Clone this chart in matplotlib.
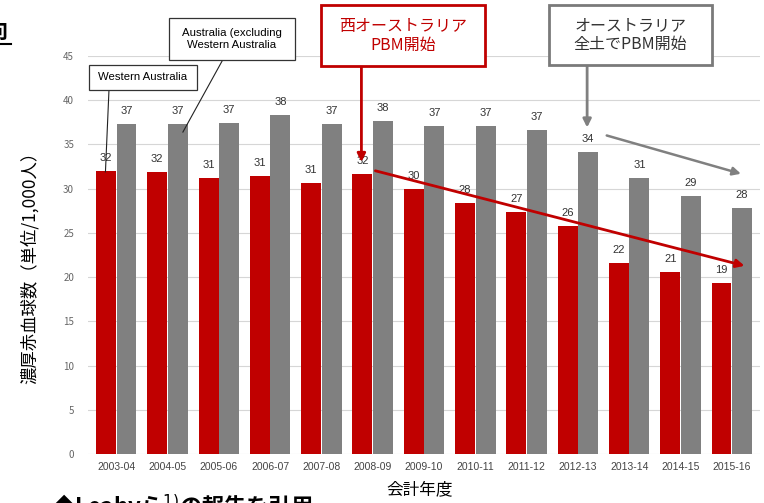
import matplotlib
matplotlib.use("Agg")
import matplotlib.pyplot as plt
from matplotlib.patches import Rectangle
import numpy as np

plt.rcParams['font.family'] = ['Noto Sans CJK JP', 'DejaVu Sans']

years = ['2003-04', '2004-05', '2005-06', '2006-07', '2007-08', '2008-09', '2009-10',
         '2010-11', '2011-12', '2012-13', '2013-14', '2014-15', '2015-16']
western_australia = [32.0, 31.9, 31.2, 31.4, 30.6, 31.7, 30.0, 28.4, 27.4, 25.8, 21.6, 20.6, 19.3]
australia_excl_wa = [37.3, 37.3, 37.4, 38.3, 37.3, 37.7, 37.1, 37.1, 36.6, 34.2, 31.2, 29.2, 27.8]

RED = '#c00000'
GRAY = '#808080'
W, H = 764, 503


def fpos(x, y):
    # pixel position -> figure fraction
    return x / W, 1 - y / H


fig = plt.figure(figsize=(W / 100, H / 100), dpi=100)
l, b = fpos(88, 454)
r, t = fpos(760, 56)
ax = fig.add_axes([l, b, r - l, t - b])

x = np.arange(len(years))
bw = 0.4
ax.bar(x - bw / 2, western_australia, bw * 0.97, color=RED, zorder=2)
ax.bar(x + bw / 2, australia_excl_wa, bw * 0.97, color=GRAY, zorder=2)

for i in x:
    ax.text(i - bw / 2, western_australia[i] + 0.9, f"{round(western_australia[i])}",
            ha='center', va='bottom', fontsize=8, color='#333333', family='Liberation Sans')
    ax.text(i + bw / 2, australia_excl_wa[i] + 0.9, f"{round(australia_excl_wa[i])}",
            ha='center', va='bottom', fontsize=8, color='#333333', family='Liberation Sans')

ax.set_xlim(-0.55, 12.55)
ax.set_ylim(0, 45)
ax.set_yticks(range(0, 46, 5))
ax.set_xticks(x)
ax.set_xticklabels(years, family='Liberation Sans')
ax.tick_params(axis='both', length=0, labelsize=7, labelcolor='#444444')
ax.tick_params(axis='x', labelsize=7.5, pad=6)
ax.tick_params(axis='y', pad=10, labelcolor='#666666')
ax.grid(axis='y', color='#d6d6d6', lw=0.8, zorder=0)
for s in ax.spines.values():
    s.set_visible(False)

fig.text(*fpos(30, 263), '濃厚赤血球数（単位/1,000人）', rotation=90, ha='center', va='center',
         fontsize=12.5)
fig.text(*fpos(420, 490), '会計年度', ha='center', va='center', fontsize=12)

# trend arrows
ax.annotate('', xy=(12.3, 21.2), xytext=(5.0, 32.1),
            arrowprops=dict(arrowstyle='-|>', color=RED, lw=2, mutation_scale=12), zorder=4)
ax.annotate('', xy=(12.23, 31.6), xytext=(9.51, 36.1), annotation_clip=False,
            arrowprops=dict(arrowstyle='-|>', color=GRAY, lw=1.8, mutation_scale=12), zorder=4)

# callout leaders
ax.annotate('', xy=(4.78, 32.7), xytext=(4.78, 44.5), annotation_clip=False,
            arrowprops=dict(arrowstyle='-|>', color=RED, lw=2, mutation_scale=12), zorder=4)
ax.annotate('', xy=(9.18, 36.6), xytext=(9.18, 44.5), annotation_clip=False,
            arrowprops=dict(arrowstyle='-|>', color=GRAY, lw=2, mutation_scale=12), zorder=4)
ax.plot([-0.14, -0.21], [41.3, 31.9], color='#222222', lw=0.8, clip_on=False, zorder=4)
ax.plot([2.08, 1.30], [44.6, 36.4], color='#222222', lw=0.8, clip_on=False, zorder=4)


def box(x0, y0, x1, y1, ec, lw):
    bx, by = fpos(x0, y1)
    fig.patches.append(Rectangle((bx, by), (x1 - x0) / W, (y1 - y0) / H,
                                 transform=fig.transFigure, fc='white', ec=ec, lw=lw, zorder=5))


box(89, 65, 197, 90, '#333333', 0.9)
fig.text(*fpos(143, 77.5), 'Western Australia', ha='center', va='center', fontsize=8.2,
         family='Liberation Sans', zorder=6)
box(169, 18, 295, 60, '#333333', 0.9)
fig.text(*fpos(232, 39), 'Australia (excluding\nWestern Australia', ha='center', va='center',
         fontsize=8.2, family='Liberation Sans', linespacing=1.25, zorder=6)

box(321, 5, 485, 66, RED, 2)
fig.text(*fpos(403, 35.5), '西オーストラリア\nPBM開始', ha='center', va='center', fontsize=11.5,
         color=RED, linespacing=1.15, zorder=6)
box(549, 5, 712, 65, '#7a7a7a', 2)
fig.text(*fpos(630.5, 35), 'オーストラリア\n全土でPBM開始', ha='center', va='center', fontsize=11.5,
         color='#333333', linespacing=1.15, zorder=6)

# page heading fragment and source note
fig.text(*fpos(-15, 31), '向', ha='left', va='center', fontsize=16, fontweight='bold')
fig.lines.append(plt.Line2D([0, 11 / W], [1 - 44 / H] * 2, transform=fig.transFigure,
                            color='black', lw=1.5))
fig.text(*fpos(52, 515), '◆Leahyら$^{1)}$の報告を引用', ha='left', va='baseline', fontsize=16,
         fontweight='bold')

fig.savefig('out.png', dpi=100)
